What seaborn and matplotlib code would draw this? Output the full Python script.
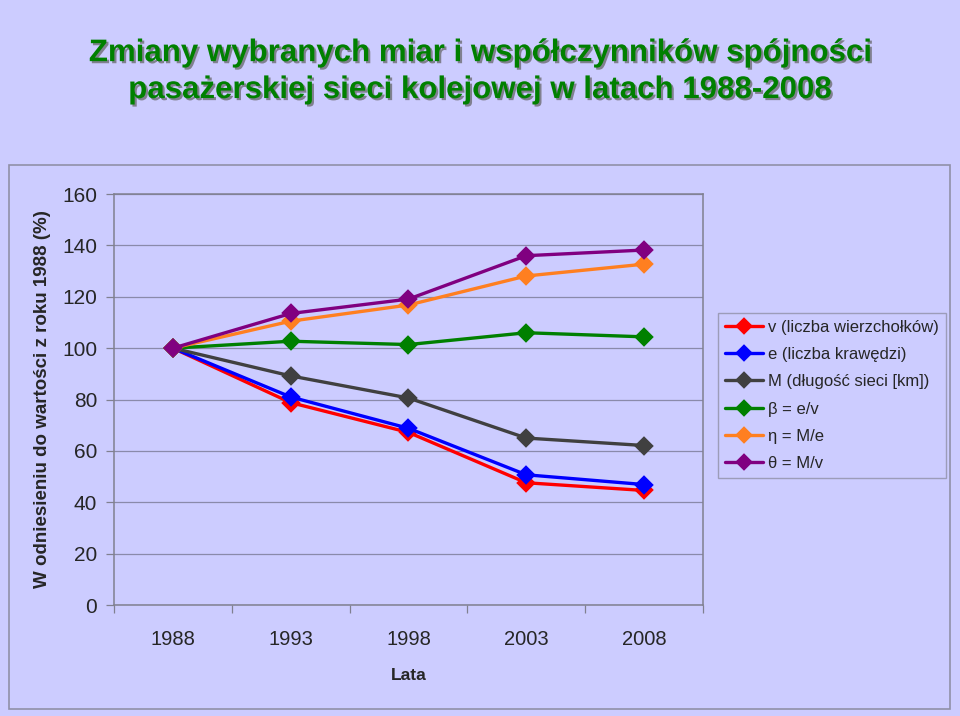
import numpy as np
import pandas as pd
import matplotlib
matplotlib.use('Agg')
import matplotlib.pyplot as plt
import matplotlib.patheffects as pe
from matplotlib import font_manager
from matplotlib.patches import Rectangle
from matplotlib.ticker import FixedLocator
import seaborn as sns

# data (1988 = 100)
years = ['1988', '1993', '1998', '2003', '2008']
v_vals = [100, 78.8, 67.2, 47.6, 44.6]
e_vals = [100, 81.0, 68.8, 50.7, 46.9]
m_vals = [100, 89.2, 80.6, 65.0, 62.1]
beta_vals = [100, 102.7, 101.4, 106.0, 104.4]
eta_vals = [100, 110.5, 116.8, 128.1, 132.7]
theta_vals = [100, 113.5, 119.1, 136.0, 138.2]

labels = ['v (liczba wierzchołków)', 'e (liczba krawędzi)', 'M (długość sieci [km])',
          'β = e/v', 'η = M/e', 'θ = M/v']
colors = ['#FF0000', '#0000FF', '#404040', '#008000', '#FF7F20', '#800080']

series = [v_vals, e_vals, m_vals, beta_vals, eta_vals, theta_vals]
rows = []
for lab, vals in zip(labels, series):
    for y, val in zip(years, vals):
        rows.append({'year': y, 'value': val, 'series': lab})
df = pd.DataFrame(rows)

sns.set_theme(style='white')
plt.rcParams['font.family'] = ['Liberation Sans', 'DejaVu Sans']

names = {f.name for f in font_manager.fontManager.ttflist}
if 'Liberation Sans Narrow' in names:
    title_font = ['Liberation Sans Narrow', 'DejaVu Sans']
    title_size = 24
else:
    title_font = ['Liberation Sans', 'DejaVu Sans']
    title_size = 22.5

bg = '#CCCCFF'
fig = plt.figure(figsize=(9.6, 7.16), dpi=100, facecolor=bg)

# chart frame (behind the axes)
fig.patches.append(Rectangle((0.0094, 0.0098), 0.980, 0.760, transform=fig.transFigure,
                             facecolor=bg, edgecolor='#9090A8', linewidth=1.2, zorder=-5))

ax = fig.add_axes([0.11875, 0.155, 0.6135, 0.574])
ax.set_facecolor(bg)

sns.pointplot(data=df, x='year', y='value', hue='series', order=years, hue_order=labels,
              palette=colors, markers='D', errorbar=None, ax=ax,
              markersize=7.8, linewidth=2.4)

ax.set_xlim(-0.5, len(years) - 0.5)
ax.set_ylim(0, 160)
ax.set_yticks(np.arange(0, 161, 20))
ax.grid(axis='y', color='#8A8AAA', linewidth=0.9)
ax.grid(axis='x', visible=False)
ax.set_axisbelow(True)
for s in ax.spines.values():
    s.set_color('#808090')
    s.set_linewidth(1.1)

ax.tick_params(axis='y', which='major', direction='out', length=6, width=0.9,
               color='#808090', left=True, labelsize=15, pad=6)
ax.tick_params(axis='x', which='major', length=0, labelsize=14.5, pad=18)
ax.xaxis.set_minor_locator(FixedLocator(np.arange(-0.5, len(years), 1.0)))
ax.tick_params(axis='x', which='minor', direction='out', length=6, width=0.9,
               color='#808090', bottom=True)
ax.set_xlabel('Lata', fontsize=12.5, fontweight='bold', labelpad=14)
ax.set_ylabel('')

fig.text(0.044, 0.443, 'W odniesieniu do wartości z roku 1988 (%)', rotation=90,
         ha='center', va='center', fontsize=13.5, fontweight='bold')

# legend
handles, labs = ax.get_legend_handles_labels()
if ax.legend_:
    ax.legend_.remove()
leg = fig.legend(handles, labs, loc='upper left', bbox_to_anchor=(718 / 960, 1 - 313 / 716),
                 bbox_transform=fig.transFigure, borderaxespad=0, fontsize=12,
                 frameon=True, fancybox=False, facecolor=bg, edgecolor='#9090A8',
                 labelspacing=0.74, handlelength=2.3, handletextpad=0.3, borderpad=0.4,
                 markerscale=0.95)
leg.get_frame().set_linewidth(1.0)

# title with shadow
title = 'Zmiany wybranych miar i współczynników spójności\npasażerskiej sieci kolejowej w latach 1988-2008'
fig.text(0.5, 0.9, title, ha='center', va='center', fontsize=title_size, fontweight='bold',
         color='#008000', family=title_font, linespacing=1.3,
         path_effects=[pe.SimplePatchShadow(offset=(1.5, -1.5), shadow_rgbFace='#606060', alpha=0.7),
                       pe.Normal()])

fig.savefig('out.png', dpi=100, facecolor=bg)
